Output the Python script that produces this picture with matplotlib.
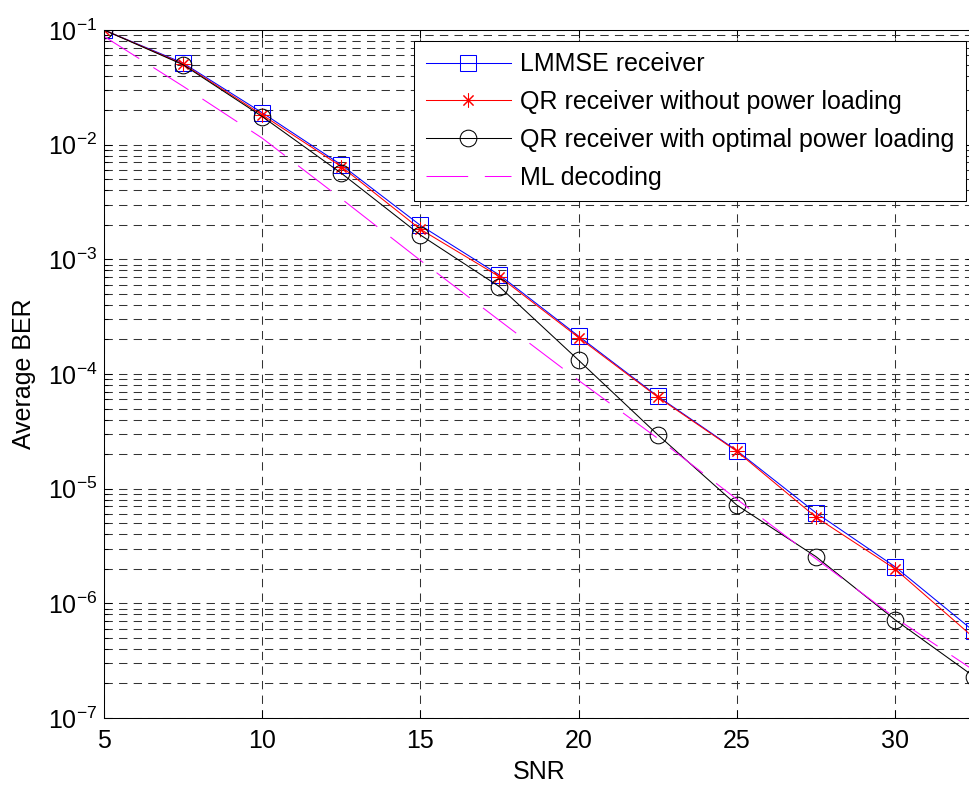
import matplotlib
matplotlib.use("Agg")
import matplotlib.pyplot as plt
from matplotlib.ticker import LogLocator, NullFormatter

# BER vs. SNR for the different receivers
snr = [5, 7.5, 10, 12.5, 15, 17.5, 20, 22.5, 25, 27.5, 30, 32.5]
ber_lmmse = [0.1, 0.0515, 0.019, 0.00667, 0.00198, 7.3e-4, 2.14e-4,
             6.4e-5, 2.15e-5, 6.17e-6, 2.09e-6, 5.7e-7]
ber_qr = [0.1, 0.0505, 0.0182, 0.00644, 0.00183, 7.05e-4, 2.08e-4,
          6.3e-5, 2.12e-5, 5.65e-6, 2.0e-6, 5.0e-7]
ber_qr_opt = [0.1, 0.0498, 0.0176, 0.00564, 0.00163, 5.77e-4, 1.32e-4,
              2.96e-5, 7.2e-6, 2.56e-6, 7.2e-7, 2.3e-7]
ber_ml = [0.088, 0.0323, 0.0114, 0.00338, 9.8e-4, 2.93e-4, 8.8e-5,
          2.75e-5, 8.1e-6, 2.45e-6, 7.5e-7, 2.6e-7]

x_ticks = [5, 10, 15, 20, 25, 30]
labels = ["LMMSE receiver",
          "QR receiver without power loading",
          "QR receiver with optimal power loading",
          "ML decoding"]

plt.rcParams['font.family'] = ['Liberation Sans', 'DejaVu Sans']
plt.rcParams['mathtext.default'] = 'regular'
plt.rcParams['font.size'] = 18

W, H = 969, 785
fig = plt.figure(figsize=(W / 100, H / 100), dpi=100)
# axes run slightly past the right edge of the figure
ax = fig.add_axes([104 / W, 1 - 718 / H, (974 - 104) / W, (718 - 30) / H])

lw = 0.75
ax.plot(snr, ber_lmmse, color='#0000ff', lw=lw, marker='s', ms=12,
        mfc='none', mec='#0000ff', mew=lw, label=labels[0])
ax.plot(snr, ber_qr, color='#ff0000', lw=lw, marker=(8, 2, 0), ms=10,
        mec='#ff0000', mew=lw, label=labels[1])
ax.plot(snr, ber_qr_opt, color='k', lw=lw, marker='o', ms=12,
        mfc='none', mec='k', mew=lw, label=labels[2])
ax.plot(snr, ber_ml, color='#ff00ff', lw=lw, ls=(0, (40, 16)), label=labels[3])

ax.set_yscale('log')
ax.set_xlim(5, 32.5)
ax.set_ylim(1e-7, 1e-1)
ax.set_xticks(x_ticks)
ax.yaxis.set_major_locator(LogLocator(base=10, numticks=20))
ax.yaxis.set_minor_locator(LogLocator(base=10, subs=range(2, 10), numticks=100))
ax.yaxis.set_minor_formatter(NullFormatter())

ax.tick_params(which='both', direction='in', top=True, right=True, width=lw)
ax.tick_params(which='major', length=6, labelsize=18)
ax.tick_params(axis='x', which='major', pad=8)
ax.tick_params(axis='y', which='major', pad=5)
ax.tick_params(which='minor', length=3)

grid_style = dict(color='#333333', lw=lw, ls=(0, (8, 6)))
ax.grid(True, which='major', axis='both', **grid_style)
ax.grid(True, which='minor', axis='y', **grid_style)
ax.set_axisbelow(True)

for sp in ax.spines.values():
    sp.set_linewidth(lw)
    sp.set_color('k')

ax.set_xlabel("SNR", fontsize=18, labelpad=5)
ax.set_ylabel("Average BER", fontsize=18, labelpad=8)

# legend box anchored at its top-right corner (pixel coords of the figure)
leg = ax.legend(loc='upper right',
                bbox_to_anchor=(966 / W, 1 - 41 / H),
                bbox_transform=fig.transFigure,
                borderaxespad=0, fancybox=False, framealpha=1,
                edgecolor='k', numpoints=1, handlelength=3.4,
                handletextpad=0.4, labelspacing=0.55, borderpad=0.45,
                fontsize=18)
leg.get_frame().set_linewidth(lw)

fig.savefig("out.png", dpi=100)
